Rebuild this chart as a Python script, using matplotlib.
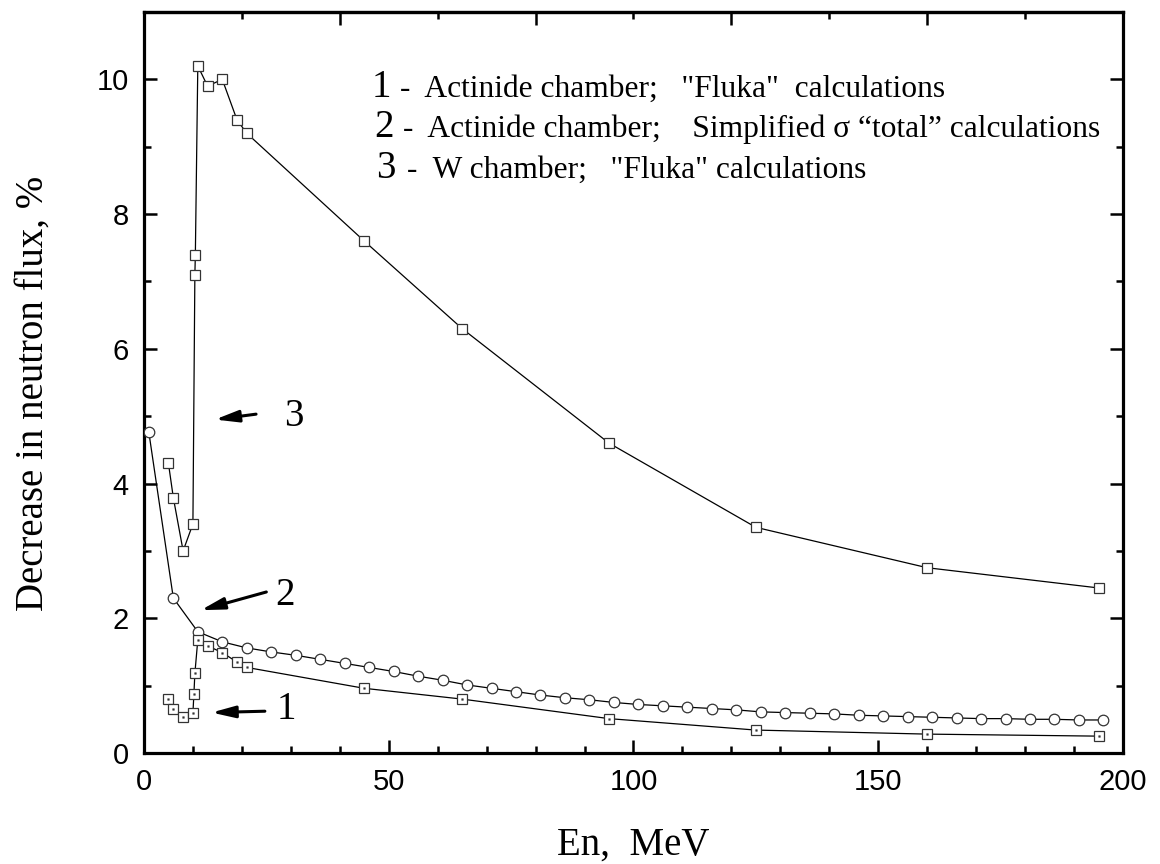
import numpy as np
import matplotlib
matplotlib.use('Agg')
import matplotlib.pyplot as plt
from matplotlib.ticker import MultipleLocator

# curve 1 - actinide chamber, Fluka
x1 = [5, 6, 8, 10, 10.2, 10.4, 11, 13, 16, 19, 21, 45, 65, 95, 125, 160, 195]
y1 = [0.80, 0.66, 0.53, 0.59, 0.87, 1.18, 1.68, 1.59, 1.49, 1.35, 1.27, 0.96, 0.80, 0.51, 0.34, 0.28, 0.25]

# curve 2 - actinide chamber, simplified sigma total
x2 = [1, 6, 11, 16, 21, 26, 31, 36, 41, 46, 51, 56, 61, 66, 71, 76, 81, 86, 91, 96,
      101, 106, 111, 116, 121, 126, 131, 136, 141, 146, 151, 156, 161, 166, 171, 176, 181, 186, 191, 196]
y2 = [4.76, 2.30, 1.80, 1.65, 1.56, 1.50, 1.45, 1.39, 1.33, 1.27, 1.21, 1.14, 1.08, 1.01, 0.96, 0.91,
      0.86, 0.82, 0.79, 0.75, 0.72, 0.70, 0.68, 0.66, 0.64, 0.61, 0.60, 0.59, 0.58, 0.56,
      0.55, 0.54, 0.53, 0.52, 0.51, 0.51, 0.50, 0.50, 0.49, 0.49]

# curve 3 - W chamber, Fluka
x3 = [5, 6, 8, 10, 10.4, 10.5, 11, 13, 16, 19, 21, 45, 65, 95, 125, 160, 195]
y3 = [4.3, 3.79, 3.0, 3.40, 7.1, 7.4, 10.2, 9.9, 10.0, 9.4, 9.2, 7.6, 6.3, 4.6, 3.35, 2.75, 2.45]

legend_lines = ['-  Actinide chamber;   "Fluka"  calculations',
                '-  Actinide chamber;    Simplified σ \u201ctotal\u201d calculations',
                '-  W chamber;   "Fluka" calculations']

serif = 'Liberation Serif'
sans = 'Liberation Sans'

fig = plt.figure(figsize=(11.6, 8.64), dpi=100)
ax = fig.add_axes([0.1241, 0.1285, 0.844, 0.8576])

edge = '#333333'
ax.plot(x3, y3, color='black', lw=0.9, marker='s', ms=7, mfc='white', mec=edge, mew=0.9, zorder=3)
ax.plot(x2, y2, color='black', lw=0.9, marker='o', ms=7.6, mfc='white', mec=edge, mew=0.9, zorder=3)
ax.plot(x1, y1, color='black', lw=0.9, marker='s', ms=7, mfc='white', mec=edge, mew=0.9, zorder=3)
ax.plot(x1, y1, ls='none', marker='s', ms=1.2, mfc='#333333', mec='#333333', mew=0.3, zorder=4)

ax.set_xlim(0, 200)
ax.set_ylim(0, 11)
ax.xaxis.set_major_locator(MultipleLocator(50))
ax.xaxis.set_minor_locator(MultipleLocator(10))
ax.yaxis.set_major_locator(MultipleLocator(2))
ax.yaxis.set_minor_locator(MultipleLocator(1))

for s in ax.spines.values():
    s.set_linewidth(2.3)

ax.tick_params(which='both', direction='in', width=1.8, right=True, top=False)
ax.tick_params(which='major', length=9.5)
ax.tick_params(which='minor', length=5)
ax.tick_params(axis='x', pad=11)
ax.tick_params(axis='y', pad=11)
for lab in ax.get_xticklabels() + ax.get_yticklabels():
    lab.set_fontfamily(sans)
    lab.set_fontsize(21)

top = ax.secondary_xaxis('top')
top.set_xticks([0, 40, 80, 120, 160, 200])
top.xaxis.set_minor_locator(MultipleLocator(20))
top.tick_params(which='both', direction='in', width=1.8, labeltop=False)
top.tick_params(which='major', length=9.5)
top.tick_params(which='minor', length=5)
top.spines['top'].set_linewidth(2.3)

ax.set_xlabel('En,  MeV', fontfamily=serif, fontsize=28)
ax.xaxis.label.set_va('center')
ax.xaxis.set_label_coords(0.5, -0.124)
ax.set_ylabel('Decrease in neutron flux, %', fontfamily=serif, fontsize=28)
ax.yaxis.label.set_va('center')
ax.yaxis.set_label_coords(-0.113, 0.485)

# legend block
num_x = [48.6, 49.1, 49.4]
txt_x = [52.3, 53.0, 53.7]
base_y = [9.74, 9.15, 8.54]
for i in range(3):
    ax.text(num_x[i], base_y[i], str(i + 1), fontfamily=serif, fontsize=28,
            ha='center', va='baseline')
    ax.text(txt_x[i], base_y[i], legend_lines[i], fontfamily=serif, fontsize=22.7,
            ha='left', va='baseline')

# arrows with curve numbers
arrows = [('1', (13.8, 0.60), (24.7, 0.62), (29.0, 0.64)),
          ('2', (11.6, 2.12), (25.0, 2.39), (28.9, 2.34)),
          ('3', (14.5, 4.95), (22.9, 5.03), (30.5, 5.0))]
for lab, head, tail, pos in arrows:
    ax.annotate('', xy=head, xytext=tail,
                arrowprops=dict(arrowstyle='-|>,head_length=1.4,head_width=0.35',
                                color='black', lw=2.2, shrinkA=0, shrinkB=0))
    ax.text(pos[0], pos[1], lab, fontfamily=serif, fontsize=28, ha='center', va='center')

fig.savefig('out.png', dpi=100)
